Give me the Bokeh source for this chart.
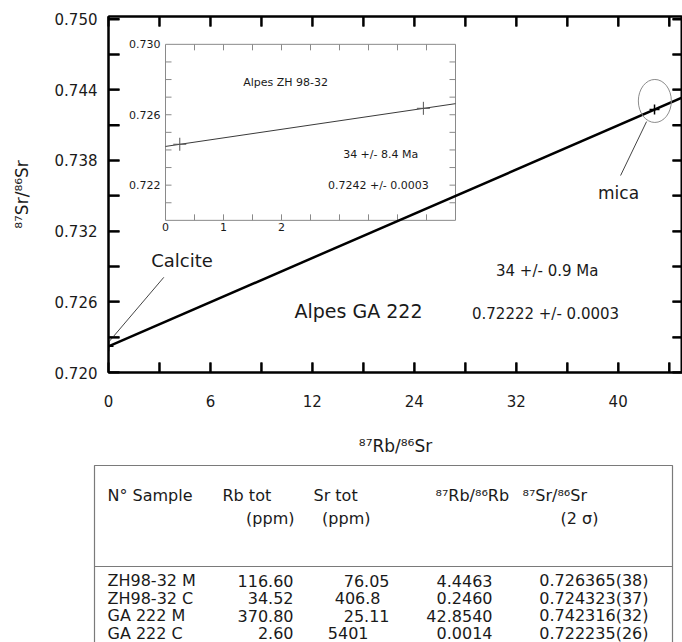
import math
from bokeh.plotting import figure
from bokeh.models import Range1d, LinearAxis, FixedTicker
from bokeh.layouts import column
from bokeh.embed import file_html
from bokeh.resources import INLINE
from bokeh.core.properties import value

FONT = "DejaVu Sans"
INK = "#1a1a1a"

# ---------------- data ----------------
samples = ["ZH98-32 M", "ZH98-32 C", "GA 222 M", "GA 222 C"]
rb_tot_ppm = ["116.60", "34.52", "370.80", "2.60"]
sr_tot_ppm = ["76.05", "406.8", "25.11", "5401"]
rb87_rb86 = [4.4463, 0.2460, 42.8540, 0.0014]
sr87_sr86 = [0.726365, 0.724323, 0.742316, 0.722235]
sr_err_2s = ["38", "37", "32", "26"]

# isochron lines
ga_iso_x = [0.0, 46.0]
ga_iso_y = [0.72222, 0.74379]
zh_iso_x = [0.0, 5.0]
zh_iso_y = [0.72420, 0.72663]

# axis ticks and labels (labels exactly as printed on the original figure)
main_x_label_vals = [0, 8, 16, 24, 32, 40]
main_x_label_txt = ["0", "6", "12", "24", "32", "40"]
main_x_minor = [4, 12, 20, 28, 36, 44]
main_y_label_vals = [0.720, 0.726, 0.732, 0.738, 0.744, 0.750]
main_y_label_txt = ["0.720", "0.726", "0.732", "0.738", "0.744", "0.750"]
main_y_minor = [0.723, 0.729, 0.735, 0.741, 0.747]
inset_x_ticks = [0.5, 1.0, 1.5, 2.0, 2.5, 3.0, 3.5, 4.0, 4.5]
inset_x_label_vals = [0, 1, 2]
inset_x_label_txt = ["0", "1", "2"]
inset_y_ticks = [0.721, 0.722, 0.723, 0.724, 0.725, 0.726, 0.727, 0.728, 0.729]
inset_y_label_vals = [0.730, 0.726, 0.722]
inset_y_label_txt = ["0.730", "0.726", "0.722"]

# ---------------- layout ----------------
W = 682
B_LEFT, B_TOP, B_BOTTOM = 108, 16, 84
FRAME_W, FRAME_H = 574, 358
MAIN_H = B_TOP + FRAME_H + B_BOTTOM        # 458
X_RANGE = (0.0, 45.05)
Y_RANGE = (0.7200, 0.75022)
INSET_X = (0.0, 5.0)
INSET_Y = (0.720, 0.730)
# inset box, in pixels inside the main frame (left, right, top, bottom)
IB_L, IB_R, IB_T, IB_B = 57, 347, 28, 205
IN_L, IN_R = IB_L / FRAME_W, IB_R / FRAME_W
IN_B, IN_T = (FRAME_H - IB_B) / FRAME_H, (FRAME_H - IB_T) / FRAME_H
# data units per screen pixel in the main frame
PX_X = (X_RANGE[1] - X_RANGE[0]) / FRAME_W
PX_Y = (Y_RANGE[1] - Y_RANGE[0]) / FRAME_H


def extra_range(lo, hi, f0, f1):
    span = (hi - lo) / (f1 - f0)
    start = lo - f0 * span
    return Range1d(start, start + span)


p = figure(width=W, height=MAIN_H, x_range=Range1d(*X_RANGE), y_range=Range1d(*Y_RANGE),
           x_axis_type=None, y_axis_type=None, output_backend="svg", toolbar_location=None,
           min_border_left=B_LEFT, min_border_right=0, min_border_top=B_TOP,
           min_border_bottom=B_BOTTOM, outline_line_color="black", outline_line_width=2)
p.extra_x_ranges = {"inset": extra_range(*INSET_X, IN_L, IN_R)}
p.extra_y_ranges = {"inset": extra_range(*INSET_Y, IN_B, IN_T)}


def style_axis(ax, tick_len):
    ax.axis_line_color = "black"
    ax.axis_line_width = 2
    ax.major_tick_line_color = "black"
    ax.major_tick_line_width = 2
    ax.minor_tick_line_color = "black"
    ax.minor_tick_line_width = 2
    ax.major_tick_in = tick_len
    ax.major_tick_out = 0
    ax.minor_tick_in = tick_len
    ax.minor_tick_out = 0
    ax.major_label_text_font = FONT
    ax.major_label_text_font_size = "15px"
    ax.major_label_text_color = INK
    ax.axis_label_text_font = FONT
    ax.axis_label_text_font_size = "17px"
    ax.axis_label_text_font_style = "normal"
    ax.axis_label_text_color = INK


xb = LinearAxis(ticker=FixedTicker(ticks=main_x_label_vals, minor_ticks=main_x_minor),
                axis_label="⁸⁷Rb/⁸⁶Sr")
style_axis(xb, 10)
xb.major_label_overrides = dict(zip(main_x_label_vals, main_x_label_txt))
xb.major_label_standoff = 22
xb.axis_label_standoff = 26
p.add_layout(xb, "below")

yl = LinearAxis(ticker=FixedTicker(ticks=main_y_label_vals, minor_ticks=main_y_minor),
                axis_label="⁸⁷Sr/⁸⁶Sr")
style_axis(yl, 11)
yl.major_label_overrides = dict(zip(main_y_label_vals, main_y_label_txt))
yl.major_label_standoff = 11
yl.axis_label_standoff = 20
p.add_layout(yl, "left")

xa = LinearAxis(ticker=FixedTicker(ticks=[], minor_ticks=main_x_label_vals + main_x_minor))
style_axis(xa, 10)
xa.major_label_standoff = 0
p.add_layout(xa, "above")

yr = LinearAxis(ticker=FixedTicker(ticks=[], minor_ticks=main_y_label_vals + main_y_minor))
style_axis(yr, 10)
yr.major_label_standoff = 0
p.add_layout(yr, "right")

# inward tick marks as glyph markers on all four sides of the main frame
x_ticks_all = sorted(main_x_label_vals[1:] + main_x_minor)
y_ticks_all = sorted(main_y_label_vals + main_y_minor)
nx, ny = len(x_ticks_all), len(y_ticks_all)
TICK = dict(marker="dash", line_color="black", line_width=2, fill_color=None)
p.scatter(x=x_ticks_all, y=[Y_RANGE[0] + 5 * PX_Y] * nx, size=10, angle=math.pi / 2, **TICK)
p.scatter(x=x_ticks_all, y=[Y_RANGE[1] - 5 * PX_Y] * nx, size=10, angle=math.pi / 2, **TICK)
p.scatter(x=[X_RANGE[0] + 5.5 * PX_X] * ny, y=y_ticks_all, size=11, **TICK)
p.scatter(x=[X_RANGE[1] - 5 * PX_X] * ny, y=y_ticks_all, size=10, **TICK)


def txt(fig, x, y, text, size, align="center", baseline="middle", color=INK, **kw):
    fig.text(x=x, y=y, text=text, text_font=value(FONT), text_font_size=size,
             text_align=align, text_baseline=baseline, text_color=color, **kw)


# ---- inset (ZH 98-32) drawn on the extra ranges ----
IN = dict(x_range_name="inset", y_range_name="inset")
GRAY = "#8a8a8a"
p.quad(left=[INSET_X[0]], right=[INSET_X[1]], bottom=[INSET_Y[0]], top=[INSET_Y[1]],
       fill_color=None, line_color=GRAY, line_width=1, **IN)
TL = 6
p.ray(x=inset_x_ticks, y=[INSET_Y[0]] * len(inset_x_ticks), length=TL, length_units="screen",
      angle=math.pi / 2, line_color=GRAY, line_width=1, **IN)
p.ray(x=inset_x_ticks, y=[INSET_Y[1]] * len(inset_x_ticks), length=TL, length_units="screen",
      angle=-math.pi / 2, line_color=GRAY, line_width=1, **IN)
p.ray(x=[INSET_X[0]] * len(inset_y_ticks), y=inset_y_ticks, length=TL, length_units="screen",
      angle=0, line_color=GRAY, line_width=1, **IN)
p.ray(x=[INSET_X[1]] * len(inset_y_ticks), y=inset_y_ticks, length=TL, length_units="screen",
      angle=math.pi, line_color=GRAY, line_width=1, **IN)
txt(p, [INSET_X[0]] * 3, inset_y_label_vals, inset_y_label_txt, "11px", align="right",
    x_offset=-5, **IN)
txt(p, inset_x_label_vals, [INSET_Y[0]] * 3, inset_x_label_txt, "11px", baseline="top",
    y_offset=3, **IN)
p.line(zh_iso_x, zh_iso_y, line_color="#3a3a3a", line_width=1, **IN)
p.scatter(rb87_rb86[:2], sr87_sr86[:2], marker="cross", size=13, line_color="#555555",
          line_width=1, **IN)
txt(p, [2.07], [0.72781], ["Alpes ZH 98-32"], "11px", **IN)
txt(p, [3.71], [0.72373], ["34 +/- 8.4 Ma"], "11px", **IN)
txt(p, [3.67], [0.72198], ["0.7242 +/- 0.0003"], "11px", **IN)

# ---- main isochron (GA 222) ----
p.line(ga_iso_x, ga_iso_y, line_color="black", line_width=2.5)
p.scatter(rb87_rb86[2:], sr87_sr86[2:], marker="cross", size=10, line_color="black",
          line_width=1.5)

# annotations
p.ellipse(x=[42.88], y=[0.74305], width=33, height=43, width_units="screen",
          height_units="screen", fill_color=None, line_color="#8c8c8c", line_width=1)
p.segment(x0=[0.02, 42.23], y0=[0.72259, 0.74130], x1=[4.34, 40.19], y1=[0.72808, 0.73672],
          line_color="#444444", line_width=1)
txt(p, [5.77], [0.72948], ["Calcite"], "18px")
txt(p, [40.03], [0.73520], ["mica"], "17px")
txt(p, [19.62], [0.72523], ["Alpes GA 222"], "19px")
txt(p, [34.43], [0.72859], ["34 +/- 0.9 Ma"], "15px")
txt(p, [34.30], [0.72498], ["0.72222 +/- 0.0003"], "15px")

# ---------------- table ----------------
TABLE_H = 642 - MAIN_H      # 184
t = figure(width=W, height=TABLE_H, x_range=Range1d(0, W), y_range=Range1d(TABLE_H, 0),
           x_axis_type=None, y_axis_type=None, output_backend="svg", toolbar_location=None,
           min_border=0, min_border_left=0, min_border_right=0, min_border_top=0,
           min_border_bottom=0, outline_line_color=None)
TGRAY = "#7a7a7a"
BOX_L, BOX_R, BOX_T = 94, 672, 7
RULE_Y = 108
HEAD1_Y, HEAD2_Y = 37, 60
ROW0_Y, ROW_STEP = 122, 17.5
t.quad(left=[BOX_L], right=[BOX_R], top=[BOX_T], bottom=[TABLE_H + 50], fill_color=None,
       line_color=TGRAY, line_width=1.2)
t.segment(x0=[BOX_L], y0=[RULE_Y], x1=[BOX_R], y1=[RULE_Y], line_color=TGRAY, line_width=1.2)

head1 = ["N° Sample", "Rb tot", "Sr tot", "⁸⁷Rb/⁸⁶Rb", "⁸⁷Sr/⁸⁶Sr"]
head1_x = [107, 222, 313, 435, 522]
head2 = ["(ppm)", "(ppm)", "(2 σ)"]
head2_x = [294, 370, 598]
TS = "16px"
txt(t, head1_x, [HEAD1_Y] * 5, head1, TS, align="left")
txt(t, head2_x, [HEAD2_Y] * 3, head2, TS, align="right")

row_y = [ROW0_Y + i * ROW_STEP for i in range(len(samples))]
sr_col_x = [389, 380, 389, 368]
txt(t, [107] * 4, row_y, samples, TS, align="left")
txt(t, [293] * 4, row_y, rb_tot_ppm, TS, align="right")
txt(t, sr_col_x, row_y, sr_tot_ppm, TS, align="right")
txt(t, [492] * 4, row_y, [f"{v:.4f}" for v in rb87_rb86], TS, align="right")
txt(t, [648] * 4, row_y, [f"{v:.6f}({e})" for v, e in zip(sr87_sr86, sr_err_2s)], TS,
    align="right")

# keep each plot's frame where it is set (no cross-plot frame alignment)
for fig in (p, t):
    try:
        fig.frame_align = False
    except Exception:
        pass

layout = column(p, t, spacing=0)
open("out.html", "w").write(file_html(layout, INLINE))
